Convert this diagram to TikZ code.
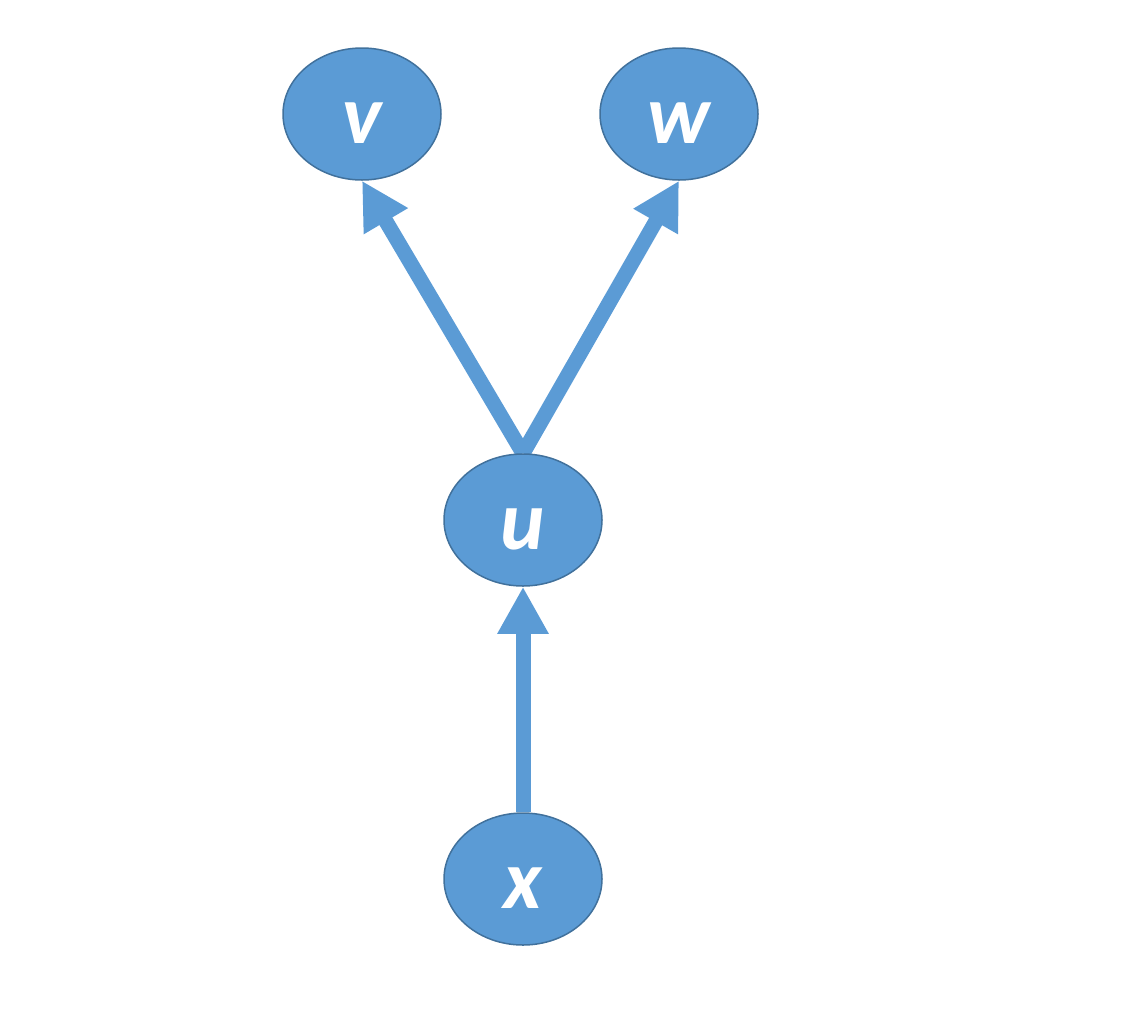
\documentclass[tikz,border=0pt]{standalone}
\usepackage{fontspec}
\newfontfamily\nodefont{Carlito}
\usetikzlibrary{shapes.geometric,arrows.meta,backgrounds}
\definecolor{nodefill}{HTML}{5B9BD5}
\definecolor{nodeedge}{HTML}{41719C}
\tikzset{
  vtx/.style={ellipse, draw=nodeedge, line width=1.5pt, fill=nodefill,
    minimum width=158pt, minimum height=132pt, inner sep=0pt,
    text=white, font=\nodefont\bfseries\itshape\fontsize{84}{84}\selectfont,
    text height=58pt, text depth=0pt},
  link/.style={draw=nodefill, line width=15pt,
    -{Triangle[width=48pt,length=47pt]}}
}
\begin{document}
\begin{tikzpicture}[x=1pt,y=-1pt]
\useasboundingbox (0,0) rectangle (1124,1010);
\node[vtx] (v) at (362,114) {v};
\node[vtx] (w) at (679,114) {w};
\node[vtx] (u) at (523,520) {u};
\node[vtx] (x) at (523,879) {x};
\begin{scope}[on background layer]
\draw[link] (u.north) -- (v.south);
\draw[link] (u.north) -- (w.south);
\draw[link] (x.north) -- (u.south);
\end{scope}
\end{tikzpicture}
\end{document}
